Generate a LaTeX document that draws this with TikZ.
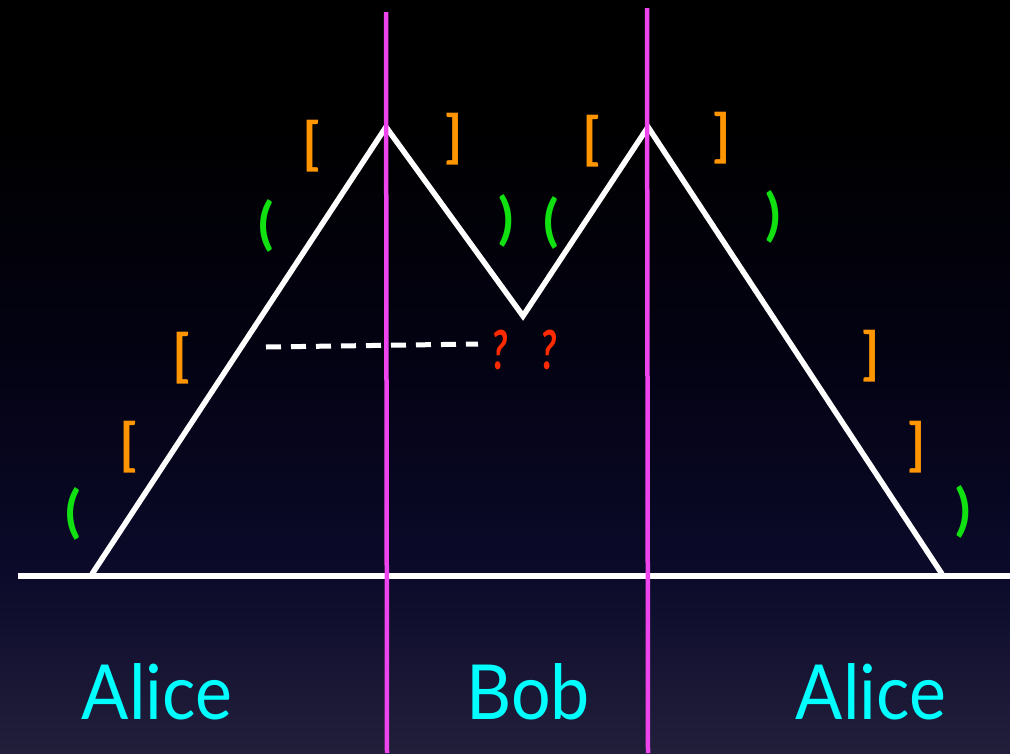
\documentclass[tikz,border=0pt]{standalone}
\usepackage{fontspec}
\setmainfont{Lato}
\definecolor{bgtop}{HTML}{000000}
\definecolor{bgmidA}{HTML}{030212}
\definecolor{bgmidB}{HTML}{0B0A2A}
\definecolor{bgbot}{HTML}{221F3B}
\definecolor{brk}{HTML}{FF9500}
\definecolor{par}{HTML}{11E011}
\definecolor{qm}{HTML}{FF2A00}
\definecolor{who}{HTML}{00FFFF}
\definecolor{cut}{HTML}{EE44EE}
\pgfdeclareverticalshading{skyshade}{100bp}{color(0bp)=(bgbot); color(25bp)=(bgbot); color(37bp)=(bgmidB); color(52bp)=(bgmidA); color(67bp)=(bgtop); color(100bp)=(bgtop)}
\tikzset{
  ridge/.style={draw=white, line width=5.5pt, line join=miter},
  ground/.style={draw=white, line width=5.5pt},
  cutline/.style={draw=cut, line width=4.5pt},
  guess/.style={draw=white, line width=5pt, dash pattern=on 15pt off 10pt},
  ob/.style={text=brk, font=\fontsize{56}{56}\selectfont\bfseries, inner sep=0pt},
  pp/.style={text=par, font=\fontsize{56}{56}\selectfont\bfseries, inner sep=0pt},
  qq/.style={text=qm, font=\fontsize{54}{54}\selectfont\bfseries\itshape, inner sep=0pt, xscale=0.7},
  nm/.style={text=who, font=\fontsize{76}{76}\selectfont, inner sep=0pt, xscale=0.92}
}
\begin{document}
\begin{tikzpicture}[x=1pt,y=-1pt]
\useasboundingbox (0,0) rectangle (1010,753);
\begin{scope}[y=1pt]
\shade[shading=skyshade] (0,-753) rectangle (1010,0);
\end{scope}
% ground
\coordinate (g0) at (18,576);
\coordinate (g1) at (1010,576);
\draw[ground] (g0) -- (g1);
% ridge
\coordinate (f1) at (92,574);
\coordinate (p1) at (386,127);
\coordinate (v) at (523,316);
\coordinate (p2) at (648,127);
\coordinate (f2) at (942,574);
\draw[ridge] (f1) -- (p1) -- (v) -- (p2) -- (f2);
% dashed guess
\coordinate (d0) at (266,347);
\coordinate (d1) at (478,344);
\draw[guess] (d0) -- (d1);
% cut lines
\coordinate (c1t) at (386,12);
\coordinate (c1b) at (387,753);
\coordinate (c2t) at (647,8);
\coordinate (c2b) at (648,753);
\draw[cutline] (c1t) -- (c1b);
\draw[cutline] (c2t) -- (c2b);
% brackets
\node[ob] (b1) at (311,146) {[};
\node[ob] (b2) at (454,139) {]};
\node[ob] (b3) at (591,141) {[};
\node[ob] (b4) at (722,138) {]};
\node[ob] (b5) at (181,358) {[};
\node[ob] (b6) at (128,447) {[};
\node[ob] (b7) at (871,356) {]};
\node[ob] (b8) at (917,447) {]};
% parens
\node[pp] (q1) at (266,226) {(};
\node[pp] (q2) at (506,221) {)};
\node[pp] (q3) at (551,223) {(};
\node[pp] (q4) at (773,217) {)};
\node[pp] (q5) at (73,514) {(};
\node[pp] (q6) at (963,512) {)};
% question marks
\node[qq] (u1) at (500,350) {?};
\node[qq] (u2) at (549,350) {?};
% names
\node[nm] (a1) at (157,692) {Alice};
\node[nm] (bb) at (528,692) {Bob};
\node[nm] (a2) at (871,692) {Alice};
\end{tikzpicture}
\end{document}
